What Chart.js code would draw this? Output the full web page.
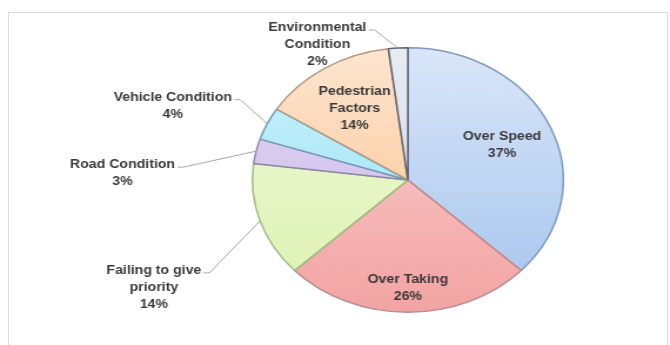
<!DOCTYPE html>
<html>
<head>
<meta charset="utf-8">
<script src="https://cdn.jsdelivr.net/npm/chart.js@4/dist/chart.umd.min.js"></script>
<style>
  html, body { margin: 0; padding: 0; background: #fff; overflow: hidden; }
  #frame {
    position: absolute; left: 8px; top: 12px; width: 658px; height: 345px;
    border: 1px solid #dcdcdc; border-bottom: none;
  }
  /* the source picture is stretched sideways, so the chart is too */
  #wrap {
    position: absolute; left: 0; top: 0; width: 570px; height: 345px;
    transform: scaleX(1.1754); transform-origin: 0 0;
  }
</style>
</head>
<body>
<div id="frame"></div>
<div id="wrap"><canvas id="pieChart" width="570" height="345"></canvas></div>
<script>
// chart data, clockwise from 12 o'clock
const categories = ['Over Speed', 'Over Taking', 'Failing to give priority', 'Road Condition',
                    'Vehicle Condition', 'Pedestrian Factors', 'Environmental Condition'];
const values = [37, 26, 14, 3, 4, 14, 2];
const labelLines = [
    ['Over Speed'],
    ['Over Taking'],
    ['Failing to give', 'priority'],
    ['Road Condition'],
    ['Vehicle Condition'],
    ['Pedestrian', 'Factors'],
    ['Environmental', 'Condition']
];

// light top colour, darker bottom colour, outline
const sliceTop = ['#dae6f8', '#fbd3d3', '#f0f9dc', '#e6dcf5', '#cdf2fb', '#fee6d0', '#e8ecf3'];
const sliceBottom = ['#a4c4ee', '#f3a3a3', '#dcf2b0', '#c4b0e6', '#8fdff4', '#f9bd88', '#c9d1e1'];
const sliceBorder = ['#7f98bd', '#b98a8e', '#a3b97c', '#8f86a8', '#6e9fb3', '#b69a80', '#5d6478'];

// where each slice label goes: inside at a share of the radius, or outside with a leader line
const placement = [
    { inside: 0.66 },
    { inside: 0.82 },
    { dx: -43, dy: 52 },
    { dx: -62, dy: 16 },
    { dx: -23, dy: -24 },
    { inside: 0.64 },
    { dx: -20, dy: -18 }
];

const sliceLabels = {
    id: 'sliceLabels',
    afterDatasetsDraw(chart) {
        const ctx = chart.ctx;
        const meta = chart.getDatasetMeta(0);
        const lh = 17;
        ctx.save();
        ctx.font = 'bold 12px "Liberation Sans", Arial, sans-serif';
        ctx.fillStyle = '#3a3a3a';
        ctx.textBaseline = 'middle';
        meta.data.forEach((arc, i) => {
            const p = arc.getProps(['x', 'y', 'startAngle', 'endAngle', 'outerRadius'], true);
            const mid = (p.startAngle + p.endAngle) / 2;
            const lines = labelLines[i].concat([values[i] + '%']);
            const pl = placement[i];
            if (pl.inside) {
                const r = p.outerRadius * pl.inside;
                const cx = p.x + Math.cos(mid) * r;
                const cy = p.y + Math.sin(mid) * r;
                ctx.textAlign = 'center';
                lines.forEach((t, k) => {
                    ctx.fillText(t, cx, cy - (lines.length - 1) * lh / 2 + k * lh);
                });
            } else {
                const ex = p.x + Math.cos(mid) * p.outerRadius;
                const ey = p.y + Math.sin(mid) * p.outerRadius;
                const bx = ex + pl.dx;
                const by = ey + pl.dy;
                ctx.strokeStyle = '#a9a9a9';
                ctx.lineWidth = 1;
                ctx.beginPath();
                ctx.moveTo(ex, ey);
                ctx.lineTo(bx, by);
                ctx.lineTo(bx - 5, by);
                ctx.stroke();
                const w = ctx.measureText(lines[0]).width;
                const right = bx - 7;
                const center = right - w / 2;
                ctx.textAlign = 'center';
                lines.forEach((t, k) => {
                    ctx.fillText(t, center, by - 2 + k * lh);
                });
            }
        });
        ctx.restore();
    }
};

function sliceGradient(context) {
    const chart = context.chart;
    const area = chart.chartArea;
    const i = context.dataIndex;
    if (!area) return sliceBottom[i];
    const g = chart.ctx.createLinearGradient(0, area.top, 0, area.bottom);
    g.addColorStop(0, sliceTop[i]);
    g.addColorStop(1, sliceBottom[i]);
    return g;
}

const ctx = document.getElementById('pieChart').getContext('2d');
new Chart(ctx, {
    type: 'pie',
    data: {
        labels: categories,
        datasets: [{
            data: values,
            backgroundColor: sliceGradient,
            borderColor: sliceBorder,
            borderWidth: 1.5,
            hoverOffset: 0
        }]
    },
    options: {
        responsive: false,
        animation: false,
        devicePixelRatio: 1,
        layout: { padding: { left: 214, right: 90, top: 47, bottom: 32 } },
        plugins: {
            legend: { display: false },
            tooltip: { enabled: false }
        }
    },
    plugins: [sliceLabels]
});
</script>
</body>
</html>
